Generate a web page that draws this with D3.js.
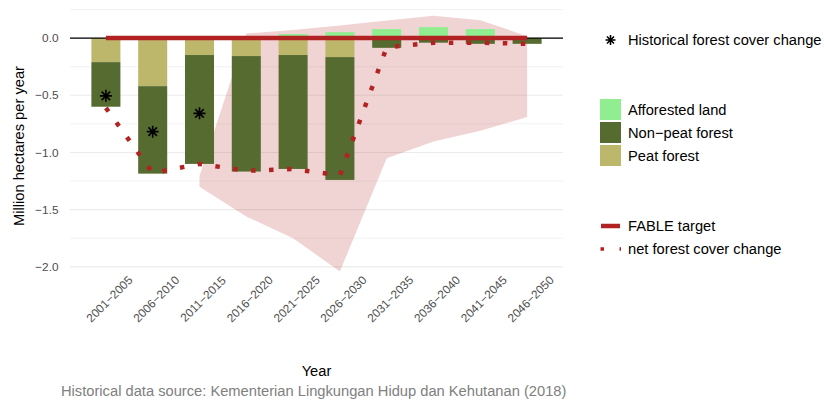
<!DOCTYPE html>
<html>
<head>
<meta charset="utf-8">
<script src="https://d3js.org/d3.v7.min.js"></script>
<style>
  body{
    margin: 0px;
    padding: 0px;
    background: white;
  }
  text {
    font-family: "Liberation Sans", Arial, Helvetica, sans-serif;
  }
</style>
</head>
<body>
<div id="svg_cont"></div>
<script>

// ---- data (Million hectares per year) ----
const periods = ['2001\u22122005', '2006\u22122010', '2011\u22122015', '2016\u22122020', '2021\u22122025',
                 '2026\u22122030', '2031\u22122035', '2036\u22122040', '2041\u22122045', '2046\u22122050'];
const afforested = [0, 0, 0, 0, 0.035, 0.052, 0.079, 0.096, 0.079, 0];
const non_peat   = [-0.39, -0.765, -0.952, -1.01, -0.996, -1.074, -0.085, -0.04, -0.05, -0.05];
const peat       = [-0.21, -0.42, -0.148, -0.157, -0.148, -0.166, 0, 0, 0, 0];
const net_change = [-0.61, -1.18, -1.10, -1.16, -1.145, -1.20, -0.08, -0.04, -0.04, -0.05];
const fable_target = [0, 0, 0, 0, 0, 0, 0, 0, 0, 0];

// historical observations (first three periods)
const hist_periods = ['2001\u22122005', '2006\u22122010', '2011\u22122015'];
const hist_change  = [-0.505, -0.818, -0.658];

// uncertainty band of the net change
const band_periods = ['2011\u22122015', '2016\u22122020', '2021\u22122025', '2026\u22122030',
                      '2031\u22122035', '2036\u22122040', '2041\u22122045', '2046\u22122050'];
const band_lo = [-1.30, -1.56, -1.75, -2.04, -1.05, -0.905, -0.81, -0.69];
const band_hi = [-1.205, 0.04, 0.07, 0.111, 0.153, 0.195, 0.157, 0.017];

const y_ticks = [0, -0.5, -1, -1.5, -2];
const y_minor = [0.25, -0.25, -0.75, -1.25, -1.75];

const fill_keys = ['Afforested land', 'Non\u2212peat forest', 'Peat forest'];
const fill_cols = ['#90EE90', '#556B2F', '#BDB76B'];
const red = '#B22222';

// ---- layout ----
var w = 824, h = 401;
var panel = {l: 70, r: 563, t: 3, b: 284};

var svg_main = d3.select('div#svg_cont')
  .append('svg')
  .attr('width', w)
  .attr('height', h)
  .style('display', 'block');

const x = d3.scalePoint()
  .domain(periods)
  .range([panel.l, panel.r])
  .padding(0.767);

const y = d3.scaleLinear()
  .domain([-2.15, 0.307])
  .range([panel.b, panel.t]);

var bar_w = x.step() * 0.62;

// gridlines
svg_main.append('g').selectAll('line')
  .data(y_minor)
  .enter().append('line')
    .attr('x1', panel.l).attr('x2', panel.r)
    .attr('y1', d => y(d)).attr('y2', d => y(d))
    .attr('stroke', '#ebebeb')
    .attr('stroke-width', 0.6);

svg_main.append('g').selectAll('line')
  .data(y_ticks)
  .enter().append('line')
    .attr('x1', panel.l).attr('x2', panel.r)
    .attr('y1', d => y(d)).attr('y2', d => y(d))
    .attr('stroke', '#ebebeb')
    .attr('stroke-width', 1.1);

// ribbon
const band_area = d3.area()
  .x((d, i) => x(band_periods[i]))
  .y0((d, i) => y(band_lo[i]))
  .y1((d, i) => y(band_hi[i]));

svg_main.append('path')
  .datum(band_periods)
  .attr('d', band_area)
  .attr('fill', red)
  .attr('fill-opacity', 0.2);

// stacked bars
var bar_rows = [];
periods.forEach(function(p, i){
  bar_rows.push({p: p, y0: 0, y1: afforested[i], c: fill_cols[0]});
  bar_rows.push({p: p, y0: 0, y1: peat[i], c: fill_cols[2]});
  bar_rows.push({p: p, y0: peat[i], y1: peat[i] + non_peat[i], c: fill_cols[1]});
});

svg_main.append('g').selectAll('rect')
  .data(bar_rows.filter(d => d.y0 !== d.y1))
  .enter().append('rect')
    .attr('x', d => x(d.p) - bar_w/2)
    .attr('width', bar_w)
    .attr('y', d => y(Math.max(d.y0, d.y1)))
    .attr('height', d => Math.abs(y(d.y0) - y(d.y1)))
    .attr('fill', d => d.c);

// zero line
svg_main.append('line')
  .attr('x1', panel.l).attr('x2', panel.r)
  .attr('y1', y(0)).attr('y2', y(0))
  .attr('stroke', 'black')
  .attr('stroke-width', 1.3);

// FABLE target
const line_gen = d3.line()
  .x(d => x(d[0]))
  .y(d => y(d[1]));

svg_main.append('path')
  .datum(periods.map((p, i) => [p, fable_target[i]]))
  .attr('d', line_gen)
  .attr('fill', 'none')
  .attr('stroke', red)
  .attr('stroke-width', 4.5);

// net forest cover change (dotted)
svg_main.append('path')
  .datum(periods.map((p, i) => [p, net_change[i]]))
  .attr('d', line_gen)
  .attr('fill', 'none')
  .attr('stroke', red)
  .attr('stroke-width', 4.5)
  .attr('stroke-dasharray', '4.5 13.5');

// historical points (asterisks)
function asterisk(r){
  var d = r * 0.7071;
  return 'M' + (-r) + ',0L' + r + ',0M0,' + (-r) + 'L0,' + r +
         'M' + (-d) + ',' + (-d) + 'L' + d + ',' + d +
         'M' + (-d) + ',' + d + 'L' + d + ',' + (-d);
}

svg_main.append('g').selectAll('path')
  .data(hist_periods)
  .enter().append('path')
    .attr('transform', (d, i) => 'translate(' + x(d) + ',' + y(hist_change[i]) + ')')
    .attr('d', asterisk(6))
    .attr('stroke', 'black')
    .attr('stroke-width', 1.6)
    .attr('fill', 'none');

// ---- axes ----
svg_main.append('g').selectAll('text')
  .data(y_ticks)
  .enter().append('text')
    .attr('x', 58.5)
    .attr('y', d => y(d))
    .attr('dy', '0.35em')
    .attr('text-anchor', 'end')
    .attr('font-size', 11.8)
    .attr('fill', '#4d4d4d')
    .text(d => d3.format('.1f')(d).replace('-', '\u2212'));

svg_main.append('g').selectAll('text')
  .data(periods)
  .enter().append('text')
    .attr('transform', d => 'translate(' + (x(d) + 3.5) + ',299) rotate(-45)')
    .attr('dy', '0.35em')
    .attr('text-anchor', 'middle')
    .attr('font-size', 11.8)
    .attr('fill', '#4d4d4d')
    .text(d => d);

svg_main.append('text')
  .attr('transform', 'translate(24,146) rotate(-90)')
  .attr('text-anchor', 'middle')
  .attr('font-size', 14.7)
  .attr('fill', 'black')
  .text('Million hectares per year');

svg_main.append('text')
  .attr('x', (panel.l + panel.r) / 2)
  .attr('y', 376)
  .attr('text-anchor', 'middle')
  .attr('font-size', 14.7)
  .attr('fill', 'black')
  .text('Year');

svg_main.append('text')
  .attr('x', 61)
  .attr('y', 396)
  .attr('font-size', 14.7)
  .attr('fill', '#808080')
  .text('Historical data source: Kementerian Lingkungan Hidup dan Kehutanan (2018)');

// ---- legends ----
var leg = svg_main.append('g');
var leg_tx = 628;

leg.append('path')
  .attr('transform', 'translate(610.5,40)')
  .attr('d', asterisk(5))
  .attr('stroke', 'black')
  .attr('stroke-width', 1.6)
  .attr('fill', 'none');

leg.append('text')
  .attr('x', leg_tx).attr('y', 40).attr('dy', '0.35em')
  .attr('font-size', 14.7)
  .text('Historical forest cover change');

leg.selectAll('rect.key')
  .data(fill_keys)
  .enter().append('rect')
    .attr('class', 'key')
    .attr('x', 600)
    .attr('y', (d, i) => 99 + i * 23)
    .attr('width', 21)
    .attr('height', 21)
    .attr('fill', (d, i) => fill_cols[i]);

leg.selectAll('text.key')
  .data(fill_keys)
  .enter().append('text')
    .attr('class', 'key')
    .attr('x', leg_tx)
    .attr('y', (d, i) => 110 + i * 23)
    .attr('dy', '0.35em')
    .attr('font-size', 14.7)
    .text(d => d);

leg.append('line')
  .attr('x1', 601).attr('x2', 620)
  .attr('y1', 226).attr('y2', 226)
  .attr('stroke', red)
  .attr('stroke-width', 4.5);

leg.append('line')
  .attr('x1', 600.5).attr('x2', 621)
  .attr('y1', 249).attr('y2', 249)
  .attr('stroke', red)
  .attr('stroke-width', 3.5)
  .attr('stroke-dasharray', '3.5 15.5');

leg.append('text')
  .attr('x', leg_tx).attr('y', 226).attr('dy', '0.35em')
  .attr('font-size', 14.7)
  .text('FABLE target');

leg.append('text')
  .attr('x', leg_tx).attr('y', 249).attr('dy', '0.35em')
  .attr('font-size', 14.7)
  .text('net forest cover change');

</script>
</body>
</html>
